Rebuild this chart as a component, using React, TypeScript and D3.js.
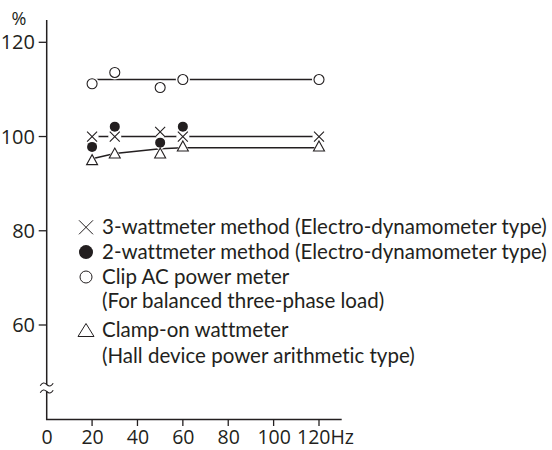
import React from 'react';
import * as d3 from 'd3';

// ---- data ----
const freqs = [20, 30, 50, 60, 120];
const threeWattmeter = [100.0, 100.0, 101.0, 100.0, 100.0];
const threeWattmeterLine = [100.0, 100.0, 100.0, 100.0, 100.0];
const twoWattmeterFreqs = [20, 30, 50, 60];
const twoWattmeter = [97.8, 102.1, 98.7, 102.1];
const clipMeter = [111.2, 113.6, 110.4, 112.1, 112.1];
const clipMeterLine = [112.1, 112.1, 112.1, 112.1, 112.1];
const clampOn = [95.1, 96.5, 96.5, 98.0, 98.0];
const clampOnLine = [95.3, 96.4, 97.4, 97.6, 97.6];
const yTicks = [60, 80, 100, 120];
const xTicks = [0, 20, 40, 60, 80, 100, 120];
const xTickLabels = ['0', '20', '40', '60', '80', '100', '120Hz'];
const legendMarkers = ['x', 'dot', 'circle', 'triangle'];
const legendText = [
  ['3-wattmeter method (Electro-dynamometer type)'],
  ['2-wattmeter method (Electro-dynamometer type)'],
  ['Clip AC power meter', '(For balanced three-phase load)'],
  ['Clamp-on wattmeter', '(Hall device power arithmetic type)'],
];

const INK = '#231f20';
const FONT = '"Open Sans", "Noto Sans", sans-serif';
const LEGEND_FONT = 'Lato, "Open Sans", sans-serif';

export default function App() {
  const x = d3.scaleLinear().domain([0, 120]).range([46.7, 319]);
  const y = d3.scaleLinear().domain([60, 120]).range([325, 42.3]);
  const xAxisEnd = x(130);
  const axisY = 419.5;
  const yTop = 20;
  const breakTop = 384.5;
  const breakBot = 391.5;

  const line = d3
    .line<[number, number]>()
    .x((d) => x(d[0]))
    .y((d) => y(d[1]));

  const pairs = (xs: number[], ys: number[]) => xs.map((f, i) => [f, ys[i]] as [number, number]);

  const cross = (cx: number, cy: number, h: number, key: string, sw = 1.1) => (
    <path
      key={key}
      d={`M${cx - h},${cy - h}L${cx + h},${cy + h}M${cx - h},${cy + h}L${cx + h},${cy - h}`}
      stroke={INK}
      strokeWidth={sw}
      fill="none"
    />
  );
  const tri = (cx: number, cy: number, hw: number, hh: number) =>
    `M${cx},${cy - hh}L${cx + hw},${cy + hh}L${cx - hw},${cy + hh}Z`;

  const halos: JSX.Element[] = [];
  const marks: JSX.Element[] = [];
  const R = 5;
  pairs(freqs, clipMeter).forEach(([f, v], i) => {
    halos.push(<circle key={'hc' + i} cx={x(f)} cy={y(v)} r={R + 2} fill="#fff" />);
    marks.push(
      <circle key={'c' + i} cx={x(f)} cy={y(v)} r={R} fill="#fff" stroke={INK} strokeWidth={1.1} />
    );
  });
  pairs(freqs, clampOn).forEach(([f, v], i) => {
    halos.push(<path key={'ht' + i} d={tri(x(f), y(v), 7.5, 7)} fill="#fff" />);
    marks.push(
      <path key={'t' + i} d={tri(x(f), y(v), 5.5, 5)} fill="#fff" stroke={INK} strokeWidth={1.1} />
    );
  });
  pairs(freqs, threeWattmeter).forEach(([f, v], i) => {
    halos.push(<circle key={'hx' + i} cx={x(f)} cy={y(v)} r={6.5} fill="#fff" />);
    marks.push(cross(x(f), y(v), 5, 'x' + i));
  });
  pairs(twoWattmeterFreqs, twoWattmeter).forEach(([f, v], i) => {
    halos.push(<circle key={'hd' + i} cx={x(f)} cy={y(v)} r={R + 1.5} fill="#fff" />);
    marks.push(<circle key={'d' + i} cx={x(f)} cy={y(v)} r={R} fill={INK} />);
  });

  // legend
  const legendBaselines = [[233.8], [258.6], [283.5], [308.3], [336.5], [362.5]];
  const legendStart = [0, 1, 2, 4];
  const legendMarkerX = 86;
  const legendTextX = 102;

  const legendMarker = (type: string, cy: number, key: string) => {
    const cx = legendMarkerX;
    if (type === 'x') return cross(cx, cy, 7, key, 1);
    if (type === 'dot') return <circle key={key} cx={cx} cy={cy} r={7} fill={INK} />;
    if (type === 'circle')
      return <circle key={key} cx={cx} cy={cy} r={6} fill="none" stroke={INK} strokeWidth={1} />;
    return <path key={key} d={tri(cx, cy, 8, 6.5)} fill="none" stroke={INK} strokeWidth={1} />;
  };

  const x0 = x(0);
  const tilde = (by: number) =>
    `M${x0 - 6.5},${by + 1.2}Q${x0 - 3.5},${by - 3.5} ${x0},${by}T${x0 + 6.5},${by - 1.2}`;

  return (
    <svg
      width={552}
      height={450}
      style={{ position: 'absolute', left: 0, top: 0, background: '#fff' }}
      fontFamily={FONT}
    >
      <rect width={552} height={450} fill="#fff" />
      {/* y axis with break */}
      <path d={`M${x0},${yTop}V${breakTop}`} stroke={INK} strokeWidth={1.5} fill="none" />
      <path d={`M${x0},${breakBot}V${axisY}H${xAxisEnd}`} stroke={INK} strokeWidth={1.5} fill="none" />
      {[breakTop, breakBot].map((by, i) => (
        <path key={'br' + i} d={tilde(by)} stroke={INK} strokeWidth={1.1} fill="none" />
      ))}
      {/* y ticks */}
      {yTicks.map((t) => (
        <g key={'yt' + t}>
          <line x1={x0 - 8} x2={x0} y1={y(t)} y2={y(t)} stroke={INK} strokeWidth={1.3} />
          <text x={35} y={y(t) + 7} textAnchor="end" fontSize={20} fill={INK}>
            {t}
          </text>
        </g>
      ))}
      <text x={19} y={24.5} textAnchor="middle" fontSize={18} fill={INK}>
        %
      </text>
      {/* x ticks */}
      {xTicks.map((t, i) => (
        <g key={'xt' + t}>
          {t > 0 && <line x1={x(t)} x2={x(t)} y1={axisY} y2={axisY + 6.5} stroke={INK} strokeWidth={1.3} />}
          <text
            x={i === xTicks.length - 1 ? x(t) - 22 : x(t) + 0.5}
            y={444}
            textAnchor={i === xTicks.length - 1 ? 'start' : 'middle'}
            fontSize={19.5}
            fill={INK}
          >
            {xTickLabels[i]}
          </text>
        </g>
      ))}
      {/* lines */}
      <path d={line(pairs(freqs, clipMeterLine)) || ''} stroke={INK} strokeWidth={1.5} fill="none" />
      <path d={line(pairs(freqs, threeWattmeterLine)) || ''} stroke={INK} strokeWidth={1.5} fill="none" />
      <path d={line(pairs(freqs, clampOnLine)) || ''} stroke={INK} strokeWidth={1.5} fill="none" />
      {halos}
      {marks}
      {/* legend */}
      {legendMarkers.map((m, i) => (
        <g key={'lg' + i}>
          {legendMarker(m, legendBaselines[legendStart[i]][0] - 6.5, 'lm' + i)}
          {legendText[i].map((s, j) => (
            <text
              key={j}
              x={legendTextX}
              y={legendBaselines[legendStart[i] + j][0]}
              fontSize={20.5}
              fontFamily={LEGEND_FONT}
              style={{ fontVariantLigatures: 'none', fontFeatureSettings: '"liga" 0, "clig" 0, "dlig" 0' }}
              fill={INK}
            >
              {s}
            </text>
          ))}
        </g>
      ))}
    </svg>
  );
}
